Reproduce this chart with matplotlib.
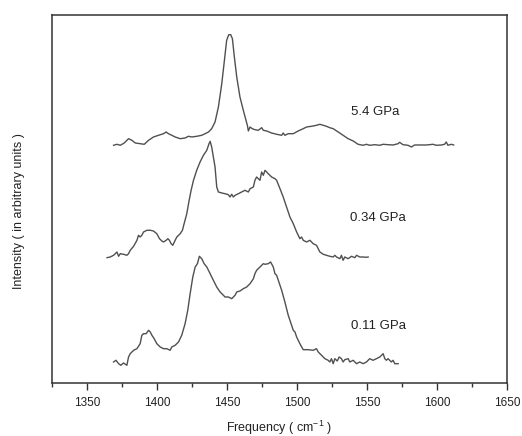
import matplotlib
matplotlib.use('Agg')
import matplotlib.pyplot as plt
from matplotlib.ticker import MultipleLocator, NullLocator

plt.rcParams.update({
    'font.family': ['Liberation Sans', 'DejaVu Sans'],
    'mathtext.fontset': 'custom',
    'mathtext.rm': 'Liberation Sans',
    'mathtext.it': 'Liberation Sans:italic',
    'font.size': 9,
})

# 5.4 GPa spectrum (frequency in cm-1, intensity in arbitrary units)
freq_54 = [1369.0, 1371.4, 1373.8, 1376.6, 1379.7, 1382.1, 1384.5, 1388.0, 1390.9, 1394.0,
           1397.5, 1401.1, 1404.7, 1406.6, 1408.2, 1410.6, 1413.0, 1416.6, 1420.1, 1422.5,
           1424.9, 1428.4, 1432.0, 1434.4, 1436.8, 1439.1, 1441.5, 1443.9, 1446.3, 1448.2,
           1449.8, 1451.3, 1452.7, 1453.9, 1455.3, 1457.0, 1459.3, 1461.7, 1463.6, 1464.6,
           1465.3, 1466.5, 1468.1, 1470.0, 1472.4, 1474.8, 1476.0, 1478.4, 1481.9, 1485.5,
           1489.1, 1490.2, 1491.4, 1493.8, 1497.4, 1500.9, 1504.5, 1506.9, 1510.4, 1514.0,
           1516.4, 1518.8, 1521.1, 1523.5, 1525.9, 1529.5, 1533.0, 1536.6, 1540.2, 1543.7,
           1547.3, 1549.7, 1552.0, 1555.6, 1559.2, 1561.6, 1565.1, 1568.7, 1572.3, 1573.4,
           1575.8, 1579.4, 1581.8, 1584.1, 1587.7, 1592.5, 1597.2, 1599.6, 1603.2, 1605.5,
           1606.7, 1607.9, 1610.3, 1612.0]
int_54 = [237.7, 238.7, 237.7, 240.0, 244.3, 242.7, 240.0, 239.3, 238.7, 242.7,
          246.0, 247.7, 249.3, 251.0, 249.3, 247.7, 246.0, 244.3, 245.0, 246.7,
          246.0, 246.7, 247.7, 249.3, 251.0, 254.3, 261.0, 276.0, 299.3, 322.7,
          342.7, 348.3, 348.3, 344.3, 326.0, 306.0, 286.0, 272.7, 262.7, 257.7,
          252.0, 256.0, 254.3, 253.3, 252.7, 255.3, 252.7, 252.0, 250.0, 248.7,
          247.7, 250.0, 247.7, 249.3, 249.3, 252.0, 254.3, 256.0, 256.7, 257.7,
          258.7, 257.7, 256.7, 255.3, 254.3, 251.0, 247.7, 244.3, 242.0, 238.7,
          237.7, 238.7, 237.7, 238.3, 237.7, 238.7, 238.3, 238.0, 239.3, 240.7,
          238.3, 237.7, 236.0, 238.0, 238.0, 238.0, 238.7, 237.7, 238.0, 238.7,
          241.0, 237.7, 238.7, 238.0]

# 0.34 GPa spectrum
freq_034 = [1364.3, 1366.6, 1369.0, 1370.2, 1371.4, 1372.6, 1373.8, 1376.1, 1378.5, 1379.7,
            1380.9, 1383.3, 1385.7, 1386.8, 1388.0, 1389.2, 1390.4, 1392.8, 1395.2, 1397.5,
            1399.9, 1401.8, 1403.5, 1404.7, 1406.6, 1407.8, 1408.9, 1410.1, 1411.3, 1413.0,
            1414.2, 1416.6, 1418.2, 1419.4, 1421.3, 1423.0, 1424.4, 1426.1, 1428.4, 1430.8,
            1433.2, 1435.6, 1437.2, 1438.0, 1439.1, 1440.3, 1441.5, 1442.7, 1443.9, 1446.3,
            1448.6, 1451.0, 1452.2, 1453.4, 1454.6, 1455.8, 1458.2, 1460.5, 1462.9, 1465.3,
            1466.5, 1468.9, 1470.0, 1471.2, 1472.4, 1473.6, 1474.8, 1476.0, 1477.2, 1478.4,
            1479.5, 1481.9, 1484.3, 1485.5, 1487.9, 1490.2, 1492.6, 1495.0, 1497.4, 1499.8,
            1502.1, 1503.3, 1504.5, 1506.9, 1509.3, 1511.6, 1514.0, 1516.4, 1518.8, 1521.1,
            1523.5, 1525.9, 1527.1, 1528.3, 1530.7, 1531.8, 1533.0, 1534.2, 1536.6, 1539.0,
            1541.4, 1542.6, 1544.9, 1547.3, 1549.7, 1550.9]
int_034 = [125.3, 126.0, 127.7, 129.3, 131.0, 126.7, 129.3, 128.7, 127.7, 129.3,
           132.7, 136.7, 142.7, 147.7, 146.0, 147.7, 151.0, 152.7, 152.7, 152.0,
           149.3, 144.3, 142.0, 141.0, 142.7, 144.3, 142.7, 139.3, 137.7, 142.7,
           146.0, 149.3, 152.7, 159.3, 169.3, 182.7, 192.7, 202.7, 212.7, 221.0,
           227.7, 232.7, 239.3, 241.7, 236.0, 226.0, 216.0, 196.0, 191.0, 190.0,
           189.3, 188.3, 186.0, 188.7, 186.0, 187.7, 189.3, 191.0, 192.7, 191.0,
           194.3, 196.0, 202.7, 206.0, 204.3, 202.7, 211.0, 207.7, 212.7, 211.0,
           209.3, 206.0, 204.3, 202.7, 194.3, 186.0, 176.0, 166.0, 159.3, 151.0,
           144.3, 146.0, 142.7, 141.0, 142.7, 139.3, 137.7, 131.0, 128.7, 127.7,
           126.7, 126.0, 127.7, 126.0, 124.3, 127.7, 122.7, 126.0, 124.3, 126.7,
           125.3, 127.7, 126.0, 126.0, 125.7, 126.0]

# 0.11 GPa spectrum
freq_011 = [1369.0, 1370.7, 1372.6, 1374.2, 1376.1, 1378.5, 1379.7, 1380.9, 1383.3, 1385.7,
            1388.0, 1389.2, 1390.4, 1392.3, 1394.0, 1395.2, 1396.4, 1398.0, 1399.9, 1402.3,
            1404.7, 1407.0, 1409.4, 1410.6, 1413.0, 1415.4, 1417.7, 1420.1, 1422.0, 1423.7,
            1425.6, 1427.3, 1428.9, 1430.3, 1432.0, 1433.7, 1435.6, 1438.0, 1440.3, 1442.7,
            1445.1, 1447.5, 1448.6, 1451.0, 1453.4, 1455.8, 1457.0, 1459.3, 1461.7, 1464.1,
            1466.5, 1468.9, 1470.0, 1471.2, 1473.6, 1474.8, 1476.0, 1477.2, 1479.5, 1481.2,
            1483.1, 1484.3, 1485.5, 1486.7, 1489.1, 1491.4, 1493.8, 1496.2, 1497.4, 1498.6,
            1499.8, 1502.1, 1504.5, 1508.1, 1511.6, 1514.0, 1515.2, 1517.6, 1520.0, 1522.3,
            1523.5, 1524.7, 1525.9, 1527.1, 1528.8, 1530.2, 1531.8, 1533.0, 1534.2, 1536.6,
            1537.8, 1540.2, 1542.6, 1544.9, 1547.3, 1549.7, 1552.0, 1554.4, 1556.8, 1559.2,
            1561.6, 1562.8, 1563.9, 1565.1, 1567.5, 1568.7, 1569.9, 1572.3]
int_011 = [21.0, 22.7, 19.3, 17.7, 20.0, 17.7, 26.0, 29.3, 32.7, 34.3,
           39.3, 47.7, 49.3, 49.3, 52.7, 51.0, 47.7, 44.3, 39.3, 36.0,
           34.3, 34.3, 32.7, 36.0, 37.7, 41.0, 47.7, 59.3, 72.7, 89.3,
           106.0, 116.0, 119.3, 126.7, 124.3, 119.3, 116.0, 109.3, 102.7, 96.0,
           91.0, 87.7, 86.0, 86.0, 84.3, 87.7, 91.0, 92.0, 94.3, 96.0,
           99.3, 104.3, 109.3, 112.7, 116.0, 117.7, 119.3, 118.7, 119.3, 121.0,
           116.0, 109.3, 107.7, 102.7, 92.7, 81.0, 67.7, 57.7, 52.7, 51.0,
           46.0, 39.3, 33.3, 33.3, 32.7, 34.3, 31.0, 27.7, 24.3, 22.7,
           21.0, 24.3, 19.3, 24.3, 22.0, 26.0, 24.3, 21.0, 23.3, 24.3,
           21.0, 22.7, 19.3, 21.0, 19.3, 21.0, 24.3, 22.7, 24.3, 26.0,
           29.3, 24.3, 22.7, 24.3, 21.0, 22.7, 19.3, 19.3]

labels = ['5.4 GPa', '0.34 GPa', '0.11 GPa']
label_pos = [(1556, 271), (1557.5, 165), (1558.5, 57)]

fig = plt.figure(figsize=(5.22, 4.36), dpi=100)
ax = fig.add_axes([0.0996, 0.1216, 0.8714, 0.844])

line_color = '#505050'
for f, y in [(freq_54, int_54), (freq_034, int_034), (freq_011, int_011)]:
    ax.plot(f, y, color=line_color, linewidth=1.0)

for text, (x, y) in zip(labels, label_pos):
    ax.text(x, y, text, ha='center', va='center', fontsize=9.5, color='#222222')

ax.set_xlim(1325, 1650)
ax.set_ylim(0, 368)
ax.xaxis.set_major_locator(MultipleLocator(50))
ax.xaxis.set_minor_locator(MultipleLocator(25))
ax.yaxis.set_major_locator(NullLocator())
ax.tick_params(axis='x', which='major', direction='out', length=5, width=1,
               labelsize=8.5, pad=5, colors='#333333', labelcolor='#222222')
ax.tick_params(axis='x', which='minor', direction='out', length=3, width=1, colors='#333333')
for s in ax.spines.values():
    s.set_color('#333333')
    s.set_linewidth(1.1)

ax.set_xlabel('Frequency ( cm$^{-1}$ )', fontsize=9, color='#222222')
ax.set_ylabel('Intensity ( in arbitrary units )', fontsize=9, color='#222222')
ax.xaxis.set_label_coords(0.5, -0.096)
ax.yaxis.set_label_coords(-0.06, 0.466)

fig.savefig('out.png', dpi=100)
